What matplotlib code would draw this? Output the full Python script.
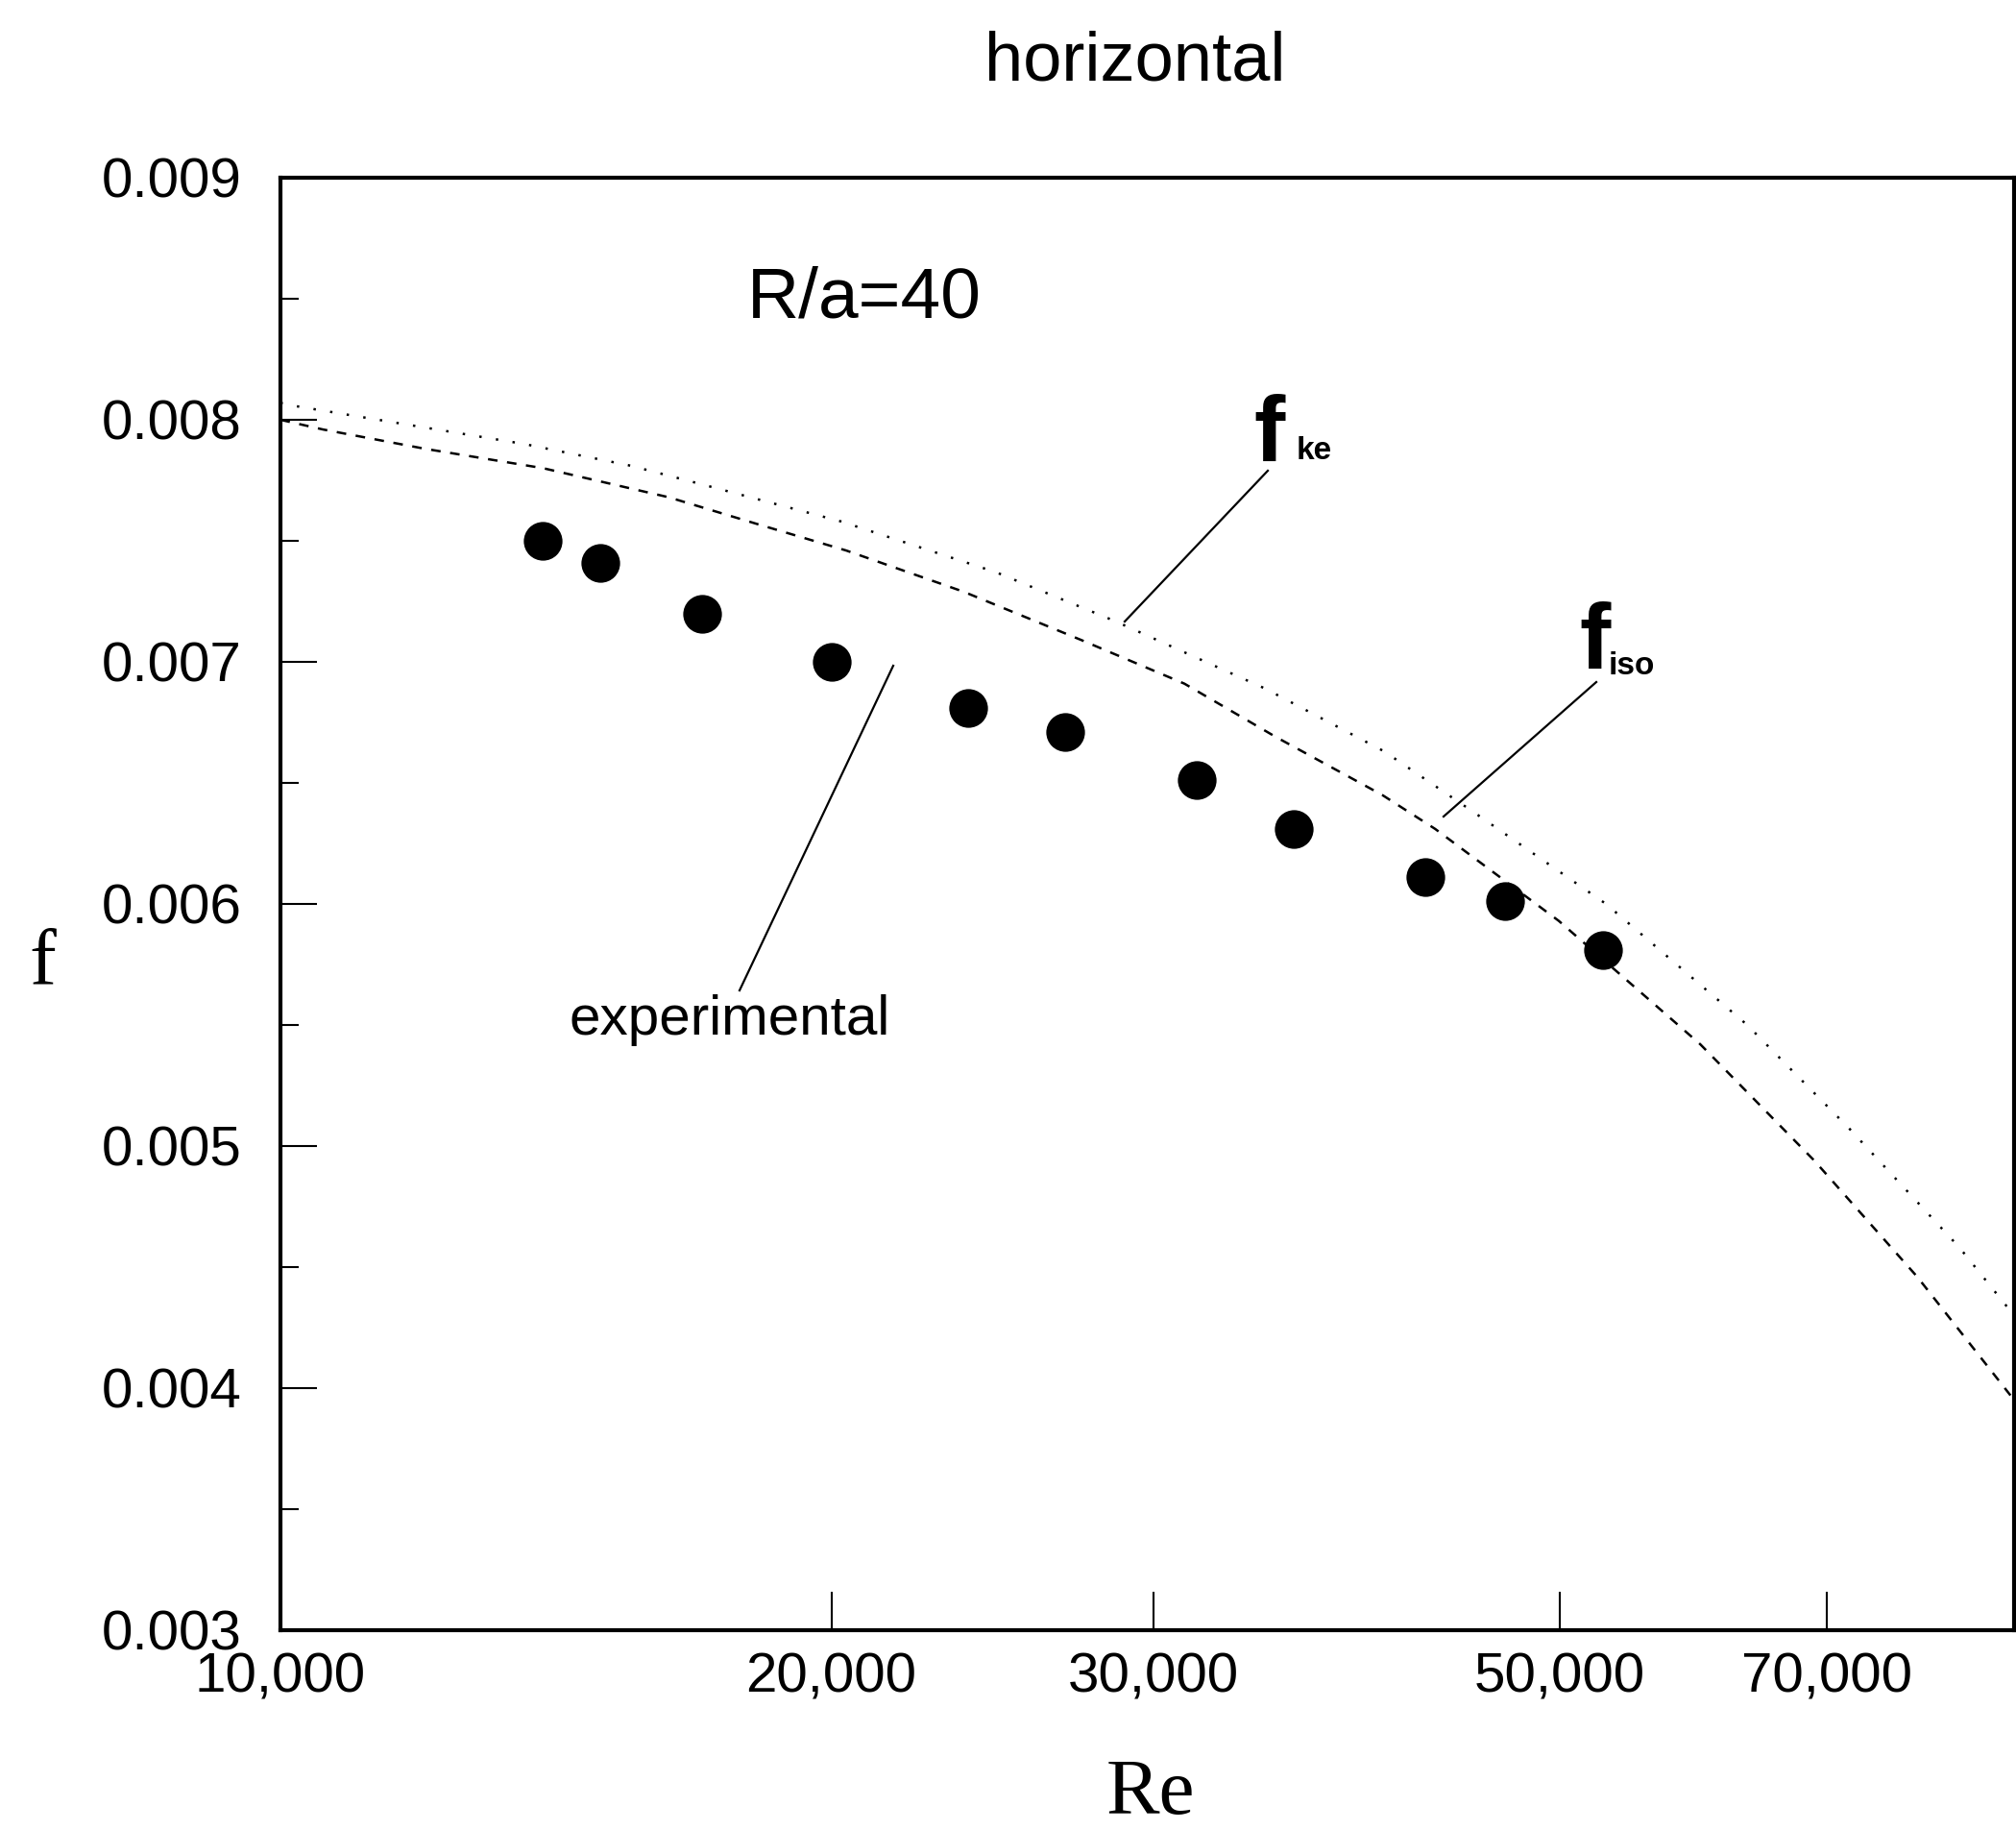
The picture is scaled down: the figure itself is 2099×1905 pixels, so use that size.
import numpy as np
import matplotlib
matplotlib.use("Agg")
import matplotlib.pyplot as plt
from matplotlib.ticker import MultipleLocator, NullLocator, FixedLocator

# experimental points
re_exp = [13910, 14960, 17000, 20010, 23760, 26850, 31680, 35800, 42240, 46700, 52820]
f_exp = [0.00750, 0.00741, 0.00720, 0.00700, 0.00681, 0.00671, 0.00651, 0.00631,
         0.00611, 0.00601, 0.00581]

# f_ke curve (dotted)
re_ke = [10000, 10130, 13590, 15545, 17060, 20250, 24610, 28550, 34520, 40110,
         44870, 53020, 63330, 72050, 82730, 88600]
f_ke = [0.00807, 0.00806, 0.00790, 0.00781, 0.00773, 0.00758, 0.00737, 0.00717,
        0.00689, 0.00663, 0.00638, 0.00600, 0.00550, 0.00507, 0.00458, 0.00430]

# f_iso curve (dashed)
re_iso = [10000, 10550, 12000, 13920, 16300, 18210, 20380, 23620, 27400, 31190,
          34990, 40010, 42760, 49960, 59700, 68900, 78430, 88200]
f_iso = [0.00800, 0.00796, 0.00788, 0.00780, 0.00768, 0.00757, 0.00746, 0.00729,
         0.00709, 0.00691, 0.00669, 0.00645, 0.00631, 0.00593, 0.00542, 0.00494,
         0.00446, 0.00397]

x_ticks = [10000, 20000, 30000, 50000, 70000]
x_labels = ["10,000", "20,000", "30,000", "50,000", "70,000"]

SANS = "Liberation Sans"
SERIF = "Liberation Serif"
plt.rcParams["font.family"] = [SANS, "DejaVu Sans"]

W, H = 2099, 1905
fig = plt.figure(figsize=(W / 100, H / 100), dpi=100)
x0, x1, y0, y1 = 292, 2097, 185, 1697
ax = fig.add_axes([x0 / W, 1 - y1 / H, (x1 - x0) / W, (y1 - y0) / H])

ax.plot(re_ke, f_ke, color="k", lw=1.8, linestyle=(0, (1, 6)))
ax.plot(re_iso, f_iso, color="k", lw=1.8, linestyle=(0, (4, 4)))
ax.plot(re_exp, f_exp, "o", color="k", markersize=29, markeredgewidth=0)

ax.set_xscale("log")
ax.set_xlim(10000, 88600)
ax.set_ylim(0.003, 0.009)

ax.xaxis.set_major_locator(FixedLocator(x_ticks))
ax.set_xticklabels(x_labels)
ax.xaxis.set_minor_locator(NullLocator())
ax.yaxis.set_major_locator(MultipleLocator(0.001))
ax.yaxis.set_minor_locator(MultipleLocator(0.0005))
ax.yaxis.set_major_formatter(plt.FuncFormatter(lambda v, p: f"{v:.3f}"))

ax.tick_params(axis="both", which="both", direction="in", top=False, right=False)
ax.tick_params(axis="x", which="major", length=29, width=1.5, pad=16, labelsize=42)
ax.tick_params(axis="y", which="major", length=27, width=1.5, pad=29, labelsize=42)
ax.tick_params(axis="y", which="minor", length=14, width=1.5)
for s in ax.spines.values():
    s.set_linewidth(3)


def axfrac(px, py):
    return (px - x0) / (x1 - x0), (y1 - py) / (y1 - y0)


def leader(p, q):
    a, b = axfrac(*p), axfrac(*q)
    ax.plot([a[0], b[0]], [a[1], b[1]], transform=ax.transAxes, color="k", lw=1.6,
            clip_on=False)


# labels inside the plot
tx, ty = axfrac(900, 311)
ax.text(tx, ty, "R/a=40", transform=ax.transAxes, ha="center", va="center", fontsize=54)

tx, ty = axfrac(760, 1062)
ax.text(tx, ty, "experimental", transform=ax.transAxes, ha="center", va="center", fontsize=42)
leader((930, 693), (770, 1031))

tx, ty = axfrac(1305, 480)
ax.text(tx, ty, "f", transform=ax.transAxes, ha="left", va="baseline", fontsize=70,
        fontweight="bold")
tx, ty = axfrac(1350, 478)
ax.text(tx, ty, "ke", transform=ax.transAxes, ha="left", va="baseline", fontsize=24,
        fontweight="bold")
leader((1320, 490), (1171, 647))

tx, ty = axfrac(1644, 696)
ax.text(tx, ty, "f", transform=ax.transAxes, ha="left", va="baseline", fontsize=70,
        fontweight="bold")
tx, ty = axfrac(1675, 702)
ax.text(tx, ty, "iso", transform=ax.transAxes, ha="left", va="baseline", fontsize=24,
        fontweight="bold")
leader((1662, 710), (1503, 850))

# title and axis labels
fig.text(1182 / W, 1 - 83 / H, "horizontal", ha="center", va="baseline", fontsize=52)
fig.text(1198 / W, 1 - 1888 / H, "Re", ha="center", va="baseline", fontsize=60,
         family=SERIF)
fig.text(44 / W, 1 - 1025 / H, "f", ha="center", va="baseline", fontsize=60,
         family=SERIF)

fig.savefig("out.png", dpi=100)
